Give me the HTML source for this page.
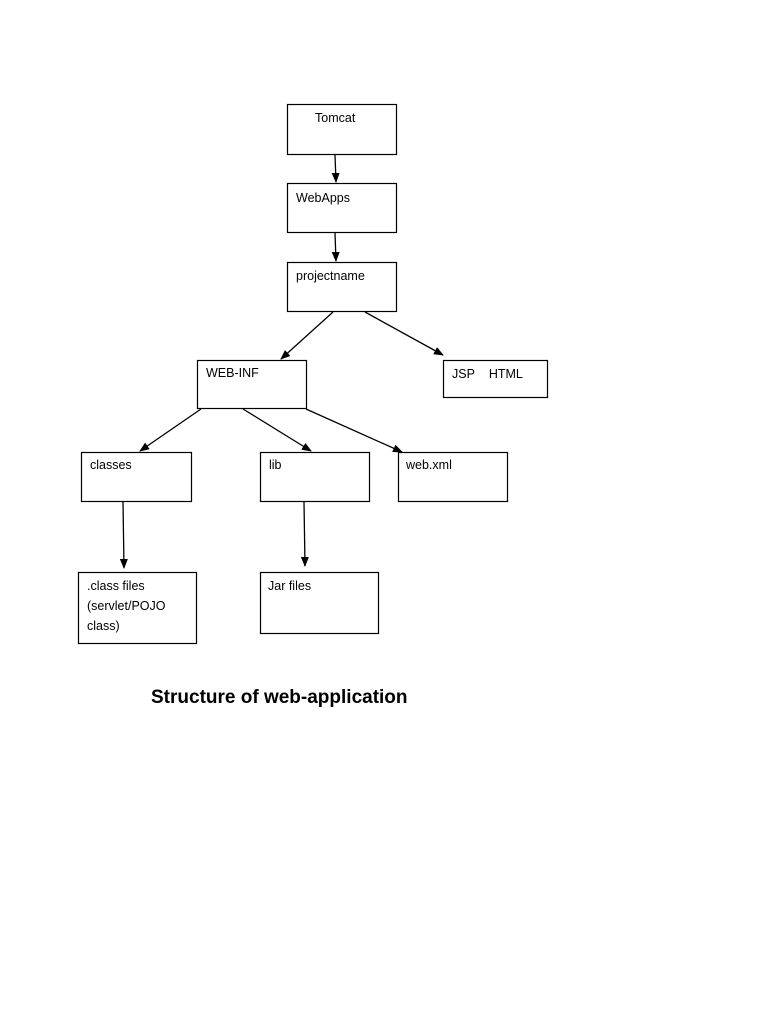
<!DOCTYPE html>
<html><head><meta charset="utf-8"><style>
html,body{margin:0;padding:0;background:#fff;}
svg{display:block;}
text{font-family:"Liberation Sans",sans-serif;font-size:12.5px;fill:#000;}
</style></head><body>
<svg width="768" height="1024" viewBox="0 0 768 1024" xmlns="http://www.w3.org/2000/svg">
<defs><marker id="a" markerWidth="10" markerHeight="8" refX="9" refY="4" orient="auto" markerUnits="userSpaceOnUse"><path d="M0,0 L10,4 L0,8 Z" fill="#000"/></marker></defs>
<g fill="none" stroke="#000" stroke-width="1.2">
<rect x="287.5" y="104.5" width="109" height="50"/>
<rect x="287.5" y="183.5" width="109" height="49"/>
<rect x="287.5" y="262.5" width="109" height="49"/>
<rect x="197.5" y="360.5" width="109" height="48"/>
<rect x="443.5" y="360.5" width="104" height="37"/>
<rect x="81.5" y="452.5" width="110" height="49"/>
<rect x="260.5" y="452.5" width="109" height="49"/>
<rect x="398.5" y="452.5" width="109" height="49"/>
<rect x="78.5" y="572.5" width="118" height="71"/>
<rect x="260.5" y="572.5" width="118" height="61"/>
</g>
<g stroke="#000" stroke-width="1.3" marker-end="url(#a)">
<line x1="335" y1="155" x2="336" y2="182"/>
<line x1="335" y1="233" x2="336" y2="261"/>
<line x1="333" y1="312" x2="281" y2="359"/>
<line x1="365" y1="312" x2="443" y2="355"/>
<line x1="201" y1="409" x2="140" y2="451"/>
<line x1="243" y1="409" x2="311" y2="451"/>
<line x1="306" y1="409" x2="402" y2="452"/>
<line x1="123" y1="502" x2="124" y2="568"/>
<line x1="304" y1="502" x2="305" y2="566"/>
</g>
<text x="315" y="122">Tomcat</text>
<text x="296" y="202">WebApps</text>
<text x="296" y="280">projectname</text>
<text x="206" y="377">WEB-INF</text>
<text x="452" y="378">JSP&#160;&#160;&#160;&#160;HTML</text>
<text x="90" y="469">classes</text>
<text x="269" y="469">lib</text>
<text x="406" y="469">web.xml</text>
<text x="87" y="590">.class files</text>
<text x="87" y="610">(servlet/POJO</text>
<text x="87" y="630">class)</text>
<text x="268" y="590">Jar files</text>
<text x="151" y="703" style="font-size:19px;font-weight:bold;">Structure of web-application</text>
</svg>
</body></html>
